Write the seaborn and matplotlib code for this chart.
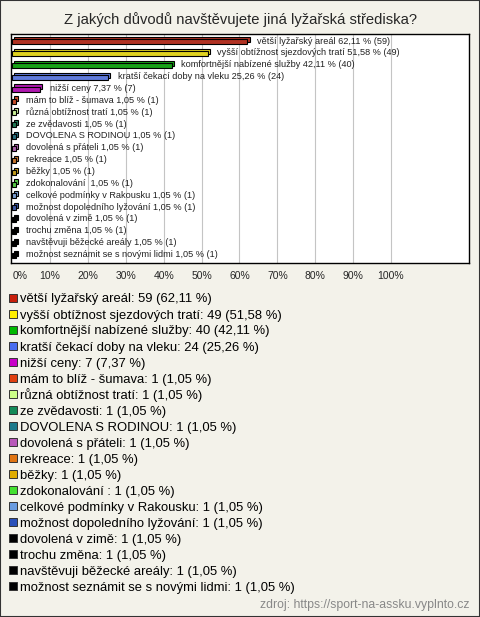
import matplotlib
matplotlib.use('Agg')
import matplotlib.pyplot as plt
import matplotlib.transforms as mtransforms
from matplotlib.patches import Rectangle
import seaborn as sns
import pandas as pd

# Answers, counts and shares as shown in the survey chart
answers = [
    'větší lyžařský areál',
    'vyšší obtížnost sjezdových tratí',
    'komfortnější nabízené služby',
    'kratší čekací doby na vleku',
    'nižší ceny',
    'mám to blíž - šumava',
    'různá obtížnost tratí',
    'ze zvědavosti',
    'DOVOLENA S RODINOU',
    'dovolená s přáteli',
    'rekreace',
    'běžky',
    'zdokonalování ',
    'celkové podmínky v Rakousku',
    'možnost dopoledního lyžování',
    'dovolená v zimě',
    'trochu změna',
    'navštěvuji běžecké areály',
    'možnost seznámit se s novými lidmi',
]
counts = [59, 49, 40, 24, 7, 1, 1, 1, 1, 1, 1, 1, 1, 1, 1, 1, 1, 1, 1]
percents = [62.11, 51.58, 42.11, 25.26, 7.37, 1.05, 1.05, 1.05, 1.05, 1.05,
            1.05, 1.05, 1.05, 1.05, 1.05, 1.05, 1.05, 1.05, 1.05]
colors = ['#c8200c', '#ffee00', '#00b800', '#4a6ef0', '#c800c8', '#e04010',
          '#ccff88', '#138a58', '#1c7a8c', '#b858b8', '#e07412', '#e0ac00',
          '#44e030', '#6a9ce0', '#2a50b8', '#000000', '#000000', '#000000',
          '#000000']
x_ticks = [0, 10, 20, 30, 40, 50, 60, 70, 80, 90, 100]

BG = '#f3f2ea'
W, H = 480, 617

df = pd.DataFrame({'answer': answers, 'count': counts, 'pct': percents})


def fmt(v):
    return f'{v:.2f}'.replace('.', ',')


sns.set_style('white')
plt.rcParams['font.family'] = ['Liberation Sans', 'DejaVu Sans']

fig = plt.figure(figsize=(W / 100, H / 100), dpi=100, facecolor=BG)
ax = fig.add_axes([11 / W, 1 - 263 / H, 458 / W, 229 / H])
ax.set_facecolor('white')

sns.barplot(data=df, x='pct', y='answer', hue='answer', palette=colors,
            legend=False, orient='h', width=0.42, edgecolor='black',
            linewidth=0.8, ax=ax, zorder=3)

# fake 3D depth: a shifted copy behind every bar
shift = mtransforms.ScaledTranslation(2.2 / 100, 2.2 / 100, fig.dpi_scale_trans)
for p in list(ax.patches):
    back = Rectangle(p.get_xy(), p.get_width(), p.get_height(),
                     facecolor=p.get_facecolor(), edgecolor='black',
                     linewidth=0.8, transform=ax.transData + shift, zorder=2)
    ax.add_patch(back)

# labels next to bars
for i, (a, c, v) in enumerate(zip(answers, counts, percents)):
    ax.annotate(f'{a} {fmt(v)} % ({c})', xy=(v, i), xytext=(7, 0.5),
                textcoords='offset points', va='center', ha='left',
                fontsize=6.6, color='#222222', zorder=4)

ax.set_xlim(-0.3, 120.6)
ax.set_ylim(18.65, -0.65)
ax.set_xticks(x_ticks)
ax.set_xticklabels([f'{t}%' for t in x_ticks], fontsize=7.5)
ax.get_xticklabels()[0].set_horizontalalignment('left')
ax.tick_params(axis='x', length=0, pad=6)
ax.set_yticks([])
ax.set_xlabel('')
ax.set_ylabel('')
for t in x_ticks[1:]:
    ax.axvline(t, color='#c4c4c4', linewidth=0.8, zorder=1)
for s in ax.spines.values():
    s.set_visible(True)
    s.set_color('black')
    s.set_linewidth(1)

fig.text(0.5, 1 - 20 / H, 'Z jakých důvodů navštěvujete jiná lyžařská střediska?',
         ha='center', va='center', fontsize=10.6)

# legend under the chart, one row every 16 px
for i, (a, c, v, col) in enumerate(zip(answers, counts, percents, colors)):
    yc = 298 + 16 * i
    fig.patches.append(Rectangle((8.5 / W, 1 - (yc + 4) / H), 8 / W, 8 / H,
                                 transform=fig.transFigure, facecolor=col,
                                 edgecolor='#333333', linewidth=0.7))
    fig.text(19.5 / W, 1 - yc / H, f'{a}: {c} ({fmt(v)} %)', ha='left',
             va='center_baseline', fontsize=9.4, color='black')

fig.text(469 / W, 1 - 605 / H, 'zdroj: https://sport-na-assku.vyplnto.cz',
         ha='right', va='center', fontsize=8.8, color='#888888')

fig.patches.append(Rectangle((0, 0), 1, 1, transform=fig.transFigure, fill=False,
                             edgecolor='#333333', linewidth=1.5))

fig.savefig('out.png', dpi=100, facecolor=BG)
